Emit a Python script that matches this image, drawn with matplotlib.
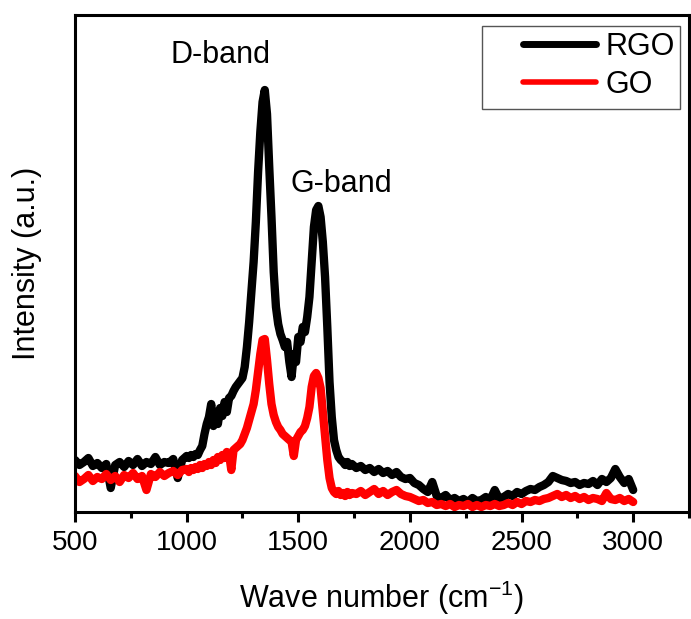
import numpy as np
import matplotlib
matplotlib.use("Agg")
import matplotlib.pyplot as plt
from matplotlib.lines import Line2D
from matplotlib.patches import Rectangle

plt.rcParams["font.family"] = ["Liberation Sans", "DejaVu Sans"]
plt.rcParams["mathtext.fontset"] = "custom"
plt.rcParams["mathtext.rm"] = "Liberation Sans"
plt.rcParams["mathtext.default"] = "regular"

# Raman shift grid (cm^-1): coarse on the baselines, fine across the D/G bands
wn_low = np.arange(500, 1000, 20)
wn_mid = np.arange(1000, 1750, 10)
wn_high = np.arange(1760, 3001, 20)
wavenumber = np.concatenate([wn_low, wn_mid, wn_high])

# Intensities (a.u.)
rgo_low = [52, 47, 50, 54, 46, 49, 44, 48, 24, 47, 50, 45, 51, 47, 53,
           46, 50, 48, 55, 47, 50, 49, 53, 34, 52]
rgo_mid = [56, 54, 57, 55, 58, 57, 62, 66, 78, 88,
           95, 108, 86, 100, 88, 104, 96, 110, 100, 114,
           116, 121, 125, 128, 131, 134, 145, 165, 190, 220,
           250, 290, 340, 380, 410, 422, 398, 345, 295, 240,
           205, 188, 178, 172, 165, 170, 150, 135, 158, 150,
           175, 170, 185, 180, 195, 215, 250, 285, 302, 306,
           295, 270, 235, 185, 130, 95, 72, 62, 55, 52,
           50, 47, 50, 46, 48]
rgo_high = [44, 46, 42, 44, 40, 43, 39, 41, 37, 40,
            35, 33, 34, 29, 27, 23, 20, 30, 16, 14,
            17, 12, 14, 11, 13, 10, 14, 11, 12, 15,
            12, 22, 13, 15, 18, 16, 20, 18, 21, 23,
            22, 25, 27, 30, 36, 34, 32, 31, 29, 30,
            27, 29, 28, 31, 27, 33, 30, 34, 43, 35,
            29, 33, 22]

go_low = [36, 30, 33, 37, 31, 35, 33, 38, 32, 36, 30, 37, 34, 39, 33,
          36, 22, 38, 35, 40, 36, 39, 41, 37, 42]
go_mid = [43, 40, 44, 42, 45, 43, 47, 44, 48, 46,
          50, 47, 52, 49, 55, 52, 57, 54, 60, 58,
          42, 62, 64, 66, 68, 72, 78, 84, 92, 100,
          108, 122, 140, 158, 172, 173, 152, 128, 108, 97,
          90, 85, 82, 78, 76, 74, 72, 70, 56, 72,
          76, 80, 82, 86, 94, 105, 125, 136, 139, 134,
          124, 100, 76, 52, 34, 24, 20, 18, 21, 17,
          19, 16, 20, 17, 19]
go_high = [18, 21, 17, 20, 23, 18, 21, 17, 20, 22,
           18, 16, 15, 13, 11, 12, 9, 10, 7, 8,
           6, 8, 5, 7, 6, 8, 5, 7, 5, 7,
           6, 8, 6, 7, 9, 7, 10, 8, 11, 10,
           12, 11, 13, 14, 16, 18, 15, 17, 14, 16,
           13, 15, 12, 14, 13, 11, 19, 13, 12, 14,
           11, 13, 10]

rgo = np.array(rgo_low + rgo_mid + rgo_high, dtype=float)
go = np.array(go_low + go_mid + go_high, dtype=float)

W, H = 691, 619
fig = plt.figure(figsize=(W / 100, H / 100), dpi=100)
ax = fig.add_axes([75 / W, (H - 512) / H, 614 / W, 497 / H])

lw = 6
ax.plot(wavenumber, rgo, color="black", lw=lw, solid_joinstyle="round",
        solid_capstyle="round", label="RGO")
ax.plot(wavenumber, go, color="#ff0000", lw=lw, solid_joinstyle="round",
        solid_capstyle="round", label="GO")

ax.set_xlim(500, 3250)
ax.set_ylim(0, 497)
ax.set_xticks([500, 1000, 1500, 2000, 2500, 3000])
ax.set_xticks(np.arange(750, 3251, 500), minor=True)
ax.set_yticks([])
ax.tick_params(axis="x", which="major", direction="out", length=7, width=2.2,
               labelsize=20, pad=6)
ax.tick_params(axis="x", which="minor", direction="out", length=4, width=2.2)
for s in ax.spines.values():
    s.set_linewidth(2.2)

ax.set_xlabel("Wave number (cm$^{-1}$)", fontsize=22, labelpad=16)
ax.set_ylabel("Intensity (a.u.)", fontsize=22, labelpad=24)

ax.text(1150, 449, "D-band", fontsize=22, ha="center", va="baseline")
ax.text(1692, 320, "G-band", fontsize=22, ha="center", va="baseline")

handles = [Line2D([], [], color="black", lw=5, solid_capstyle="round"),
           Line2D([], [], color="#ff0000", lw=4, solid_capstyle="round")]
leg = fig.legend(handles, ["RGO", "GO"], loc="upper left",
                 bbox_to_anchor=(523 / W, 1 - 32 / H), frameon=False,
                 fontsize=22, borderpad=0, borderaxespad=0,
                 handlelength=2.4, handletextpad=0.3, labelspacing=0.25)
fig.add_artist(Rectangle((482 / W, (H - 109) / H), 198 / W, 83 / H,
                         transform=fig.transFigure, fill=False,
                         edgecolor="#555555", lw=1))

fig.savefig("out.png", dpi=100, facecolor="white")
